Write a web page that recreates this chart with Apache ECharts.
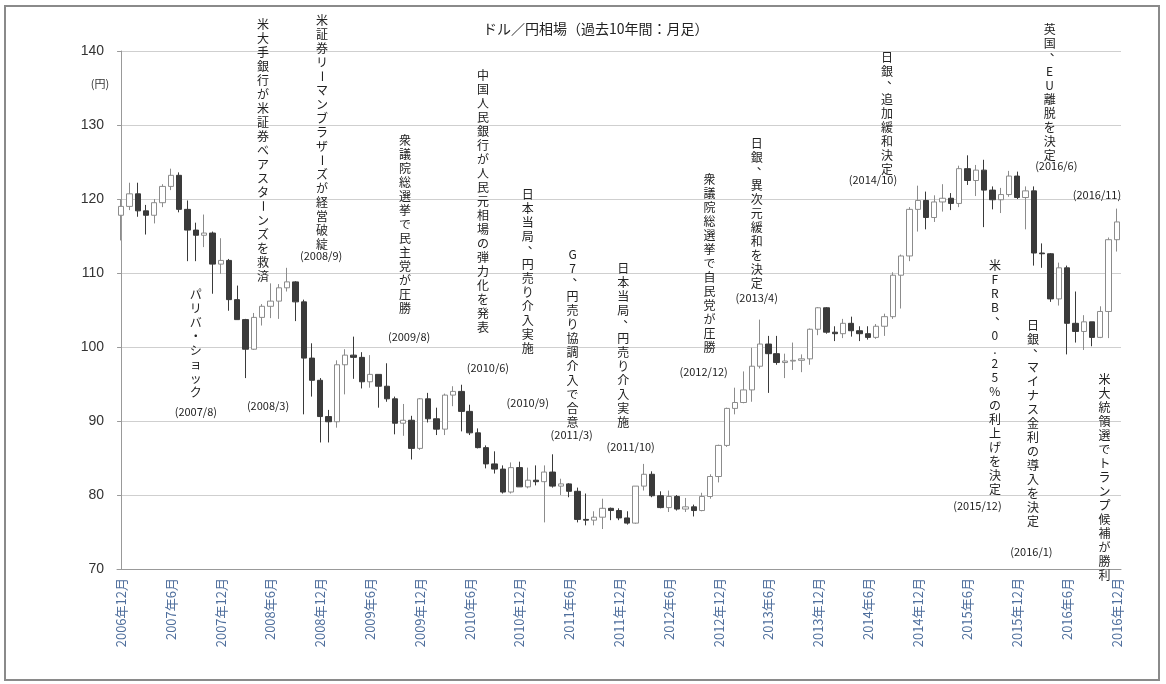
<!DOCTYPE html>
<html><head><meta charset="utf-8">
<script src="https://cdn.jsdelivr.net/npm/echarts@6/dist/echarts.min.js"></script>
<style>html,body{margin:0;padding:0;background:#fff}#c{width:1166px;height:684px}</style>
</head><body><div id="c"></div>
<script>
// ---- categories (month-end candles) ----
const months = [
 '2006/12',
 '2007/1','2007/2','2007/3','2007/4','2007/5','2007/6','2007/7','2007/8','2007/9','2007/10','2007/11','2007/12',
 '2008/1','2008/2','2008/3','2008/4','2008/5','2008/6','2008/7','2008/8','2008/9','2008/10','2008/11','2008/12',
 '2009/1','2009/2','2009/3','2009/4','2009/5','2009/6','2009/7','2009/8','2009/9','2009/10','2009/11','2009/12',
 '2010/1','2010/2','2010/3','2010/4','2010/5','2010/6','2010/7','2010/8','2010/9','2010/10','2010/11','2010/12',
 '2011/1','2011/2','2011/3','2011/4','2011/5','2011/6','2011/7','2011/8','2011/9','2011/10','2011/11','2011/12',
 '2012/1','2012/2','2012/3','2012/4','2012/5','2012/6','2012/7','2012/8','2012/9','2012/10','2012/11','2012/12',
 '2013/1','2013/2','2013/3','2013/4','2013/5','2013/6','2013/7','2013/8','2013/9','2013/10','2013/11','2013/12',
 '2014/1','2014/2','2014/3','2014/4','2014/5','2014/6','2014/7','2014/8','2014/9','2014/10','2014/11','2014/12',
 '2015/1','2015/2','2015/3','2015/4','2015/5','2015/6','2015/7','2015/8','2015/9','2015/10','2015/11','2015/12',
 '2016/1','2016/2','2016/3','2016/4','2016/5','2016/6','2016/7','2016/8','2016/9','2016/10','2016/11','2016/12'
];
// ---- series values (yen per dollar) ----
const openVals = [
 117.8,
 119.0,120.7,118.4,117.8,119.5,121.7,123.2,118.6,115.8,115.1,115.4,111.2,
 111.7,106.4,103.7,99.7,104.0,105.5,106.2,108.0,108.8,106.1,98.5,95.5,
 90.6,89.9,97.6,98.9,98.6,95.3,96.3,94.7,93.0,89.7,90.1,86.3,
 93.0,90.3,88.9,93.5,94.0,91.3,88.4,86.4,84.2,83.5,80.4,83.7,
 81.1,82.0,81.8,83.1,81.2,81.5,80.5,76.7,76.6,77.0,78.2,77.9,
 76.9,76.2,81.2,82.8,79.9,78.3,79.8,78.1,78.4,77.9,79.8,82.5,
 86.7,91.7,92.5,94.2,97.4,100.4,99.1,97.9,98.1,98.2,98.4,102.4,
 105.3,102.0,101.8,103.2,102.2,101.8,101.3,102.8,104.1,109.7,112.3,118.6,
 119.8,117.5,119.6,120.1,119.4,124.1,122.5,123.9,121.2,119.9,120.6,123.1,
 120.2,121.1,112.7,112.6,106.5,110.7,103.2,102.1,103.4,101.3,104.8,114.5
];
const closeVals = [
 119.0,
 120.7,118.4,117.8,119.5,121.7,123.2,118.6,115.8,115.1,115.4,111.2,111.7,
 106.4,103.7,99.7,104.0,105.5,106.2,108.0,108.8,106.1,98.5,95.5,90.6,
 89.9,97.6,98.9,98.6,95.3,96.3,94.7,93.0,89.7,90.1,86.3,93.0,
 90.3,88.9,93.5,94.0,91.3,88.4,86.4,84.2,83.5,80.4,83.7,81.1,
 82.0,81.8,83.1,81.2,81.5,80.5,76.7,76.6,77.0,78.2,77.9,76.9,
 76.2,81.2,82.8,79.9,78.3,79.8,78.1,78.4,77.9,79.8,82.5,86.7,
 91.7,92.5,94.2,97.4,100.4,99.1,97.9,98.1,98.2,98.4,102.4,105.3,
 102.0,101.8,103.2,102.2,101.8,101.3,102.8,104.1,109.7,112.3,118.6,119.8,
 117.5,119.6,120.1,119.4,124.1,122.5,123.9,121.2,119.9,120.6,123.1,120.2,
 121.1,112.7,112.6,106.5,110.7,103.2,102.1,103.4,101.3,104.8,114.5,116.9
];
const lowVals = [
 114.4,
 118.5,117.6,115.2,116.7,118.9,121.2,118.2,111.6,111.6,113.5,107.2,109.9,
 104.9,103.7,95.8,99.6,102.9,103.9,103.8,107.5,103.5,90.9,93.3,87.1,
 87.1,89.1,93.6,95.7,94.4,94.5,91.8,92.6,88.2,88.0,84.8,86.1,
 89.8,88.1,88.1,92.0,88.6,88.1,86.3,83.6,82.9,80.2,80.2,81.1,
 80.9,81.3,76.3,81.0,80.0,79.7,76.3,75.9,75.9,75.4,76.6,76.6,
 76.0,76.1,80.6,79.7,78.2,77.7,77.9,77.7,77.1,77.8,79.5,81.7,
 86.5,90.9,92.4,92.6,97.1,93.8,97.6,95.8,96.9,96.6,97.6,101.6,
 101.8,100.8,101.2,101.4,100.8,101.0,101.1,101.5,103.8,105.2,111.6,115.6,
 115.9,116.9,118.3,118.5,118.9,121.9,120.4,116.2,118.6,118.1,120.3,120.0,
 115.9,111.0,110.7,106.1,105.6,99.0,100.6,99.6,100.1,101.2,101.2,112.9
];
const highVals = [
 119.9,
 122.2,122.2,119.2,120.0,122.0,124.1,123.6,119.8,116.8,117.9,115.6,114.7,
 111.9,108.3,103.8,104.6,105.8,108.6,108.5,110.7,108.9,106.4,100.5,95.8,
 91.5,98.2,99.7,101.4,99.3,98.9,96.3,97.8,93.3,92.3,90.7,93.1,
 93.8,91.8,93.7,94.7,94.9,92.2,89.0,86.7,85.9,84.0,84.4,84.5,
 83.7,84.0,84.0,85.5,82.2,81.6,81.0,80.2,77.8,79.5,78.3,78.2,
 77.8,81.2,84.2,83.2,80.5,80.6,80.0,79.6,78.7,80.3,82.8,86.8,
 91.8,94.5,96.7,99.9,103.7,101.5,101.5,99.1,100.6,99.0,102.5,105.4,
 105.4,102.8,103.8,104.1,102.8,102.8,103.1,104.5,110.1,112.5,118.9,121.8,
 121.0,120.5,122.0,120.8,124.5,125.9,124.6,125.3,121.7,121.5,123.8,123.7,
 121.7,121.7,114.0,112.7,111.4,111.0,107.5,104.3,103.4,105.5,114.8,118.7
];
// ---- axis tick values ----
const yMin = 70, yMax = 140, yStep = 10;

// ---- annotation texts ----
const eventTexts = [
 '米大手銀行が米証券ベアスターンズを救済',
 '米証券リーマンブラザーズが経営破綻',
 'パリバ・ショック',
 '衆議院総選挙で民主党が圧勝',
 '中国人民銀行が人民元相場の弾力化を発表',
 '日本当局、円売り介入実施',
 'G7、円売り協調介入で合意',
 '日本当局、円売り介入実施',
 '衆議院総選挙で自民党が圧勝',
 '日銀、異次元緩和を決定',
 '日銀、追加緩和決定',
 '英国、EU離脱を決定',
 '米FRB、0.25%の利上げを決定',
 '日銀、マイナス金利の導入を決定',
 '米大統領選でトランプ候補が勝利'
];
const eventDates = ['(2008/3)','(2008/9)','(2007/8)','(2009/8)','(2010/6)','(2010/9)','(2011/3)','(2011/10)',
 '(2012/12)','(2013/4)','(2014/10)','(2016/6)','(2015/12)','(2016/1)','(2016/11)'];

// ---- annotation placement (in axis units: month index, yen) ----
const eventLayout = [
 {x:17.1, top:144.6, dx:17.7, dy:92.0},
 {x:24.2, top:145.1, dx:24.1, dy:112.3},
 {x:9.0,  top:108.1, dx:9.0,  dy:91.2},
 {x:34.2, top:128.9, dx:34.7, dy:101.4},
 {x:43.6, top:137.7, dx:44.2, dy:97.2},
 {x:49.0, top:121.5, dx:49.0, dy:92.4},
 {x:54.4, top:113.5, dx:54.3, dy:88.2},
 {x:60.5, top:111.5, dx:61.4, dy:86.5},
 {x:70.9, top:123.6, dx:70.2, dy:96.6},
 {x:76.6, top:128.4, dx:76.6, dy:106.6},
 {x:92.3, top:140.1, dx:90.6, dy:122.6},
 {x:111.9,top:143.9, dx:112.7,dy:124.5},
 {x:105.3,top:112.0, dx:103.2,dy:78.5},
 {x:109.9,top:103.9, dx:109.7,dy:72.3},
 {x:118.5,top:96.6,  dx:117.6,dy:120.5}
];

const candleData = months.map((m, i) => [openVals[i], closeVals[i], lowVals[i], highVals[i]]);

const chart = echarts.init(document.getElementById('c'), null, {renderer:'canvas'});
const FONT = '"Noto Sans CJK JP", "Noto Sans", sans-serif';
const option = {
  backgroundColor: '#fff',
  animation: false,
  title: {
    text: 'ドル／円相場（過去10年間：月足）',
    left: 478, top: 17,
    textStyle: {fontSize: 14, fontWeight: 'normal', color: '#222', fontFamily: FONT}
  },
  grid: {left: 117, right: 45, top: 51, bottom: 115, containLabel: false},
  xAxis: [{
    type: 'category',
    data: months,
    boundaryGap: true,
    axisLine: {lineStyle: {color: '#999'}},
    axisTick: {alignWithLabel: true, interval: 5, length: 4, lineStyle: {color: '#999'}},
    axisLabel: {
      interval: 5, rotate: 90, fontSize: 13, color: '#4e6e9c', margin: 9, fontFamily: FONT,
      formatter: v => { const p = v.split('/'); return p[0] + '年' + p[1] + '月'; }
    },
    splitLine: {show: false}
  }, {
    type: 'value', min: -0.5, max: months.length - 0.5, show: false
  }],
  yAxis: {
    type: 'value', min: yMin, max: yMax, interval: yStep,
    name: '(円)', nameLocation: 'end', nameGap: -38,
    nameTextStyle: {fontSize: 11, color: '#333', align: 'right', padding: [0, 12, 0, 0], fontFamily: FONT},
    axisLine: {show: true, lineStyle: {color: '#999'}},
    axisTick: {show: true, length: 4, lineStyle: {color: '#999'}},
    axisLabel: {fontSize: 14, color: '#333', margin: 13, fontFamily: 'Liberation Sans, Arial, sans-serif'},
    splitLine: {lineStyle: {color: '#cfcfcf', width: 1}}
  },
  series: [{
    type: 'candlestick',
    xAxisIndex: 0,
    data: candleData,
    barWidth: '70%',
    itemStyle: {
      color: '#ffffff', color0: '#3a3a3a',
      borderColor: '#8c8c8c', borderColor0: '#3a3a3a', borderWidth: 1
    }
  }]
};
chart.setOption(option);

const LINE = 14;
const gfx = [{
  type: 'rect', silent: true,
  shape: {x: 5, y: 6, width: 1154, height: 674},
  style: {fill: 'none', stroke: '#8a8a8a', lineWidth: 2}
}];
eventTexts.forEach((t, i) => {
  const L = eventLayout[i];
  const p = chart.convertToPixel({xAxisIndex: 1, yAxisIndex: 0}, [L.x, L.top]);
  // vertical (tategaki) text: one upright character per line
  Array.from(t).forEach((c, k) => {
    let ox = 0, oy = 0, rot = 0;
    if (c === 'ー') rot = -Math.PI / 2;
    if (c === '、') { ox = 6; oy = -6; }
    gfx.push({
      type: 'text', silent: true, z: 10,
      x: p[0] + ox, y: p[1] + k * LINE + LINE / 2 + oy, rotation: rot,
      style: {
        text: c, x: 0, y: 0,
        font: '12px ' + FONT, fill: '#222',
        textAlign: 'center', textVerticalAlign: 'middle', align: 'center', verticalAlign: 'middle'
      }
    });
  });
  const q = chart.convertToPixel({xAxisIndex: 1, yAxisIndex: 0}, [L.dx, L.dy]);
  gfx.push({
    type: 'text', silent: true, z: 10,
    style: {
      text: eventDates[i], x: q[0], y: q[1],
      font: '11px ' + FONT, fill: '#222',
      textAlign: 'center', textVerticalAlign: 'middle', align: 'center', verticalAlign: 'middle'
    }
  });
});
chart.setOption({graphic: gfx});
</script></body></html>
